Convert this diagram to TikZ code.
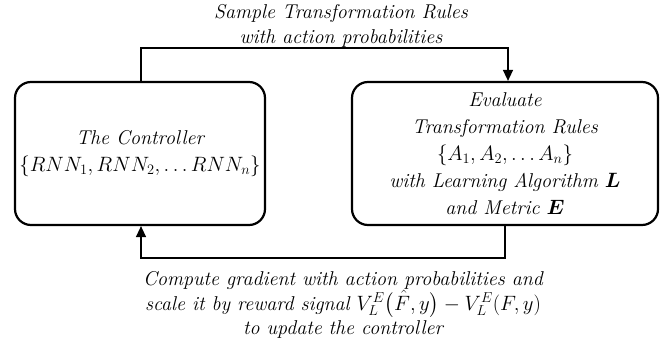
\documentclass[tikz,border=0pt]{standalone}
\usepackage{amsmath}
\usetikzlibrary{arrows.meta}
\begin{document}
\begin{tikzpicture}[x=1pt,y=-1pt,
  box/.style={draw, line width=2.2pt, rounded corners=16pt, align=center, inner sep=0pt},
  boxtxt/.style={font=\fontsize{20}{26.5}\selectfont\itshape},
  lbl/.style={align=center, font=\fontsize{20}{24.5}\selectfont\itshape, inner sep=0pt},
  conn/.style={line width=1.4pt, -{Triangle[length=11pt,width=10pt]}}]
\useasboundingbox (0,0) rectangle (666,345);
\node[box, boxtxt, minimum width=250pt, minimum height=143pt] (ctrl) at (140,153.5)
  {The Controller\\$\{RNN_1, RNN_2, \ldots RNN_n\}$};
\node[box, boxtxt, font=\fontsize{20}{27}\selectfont\itshape, minimum width=306pt, minimum height=143pt] (eval) at (505,153.5)
  {Evaluate\\Transformation Rules\\$\{A_1, A_2, \ldots A_n\}$\\with Learning Algorithm $\boldsymbol{L}$\\and Metric $\boldsymbol{E}$};
\coordinate (t1) at (141,48);
\coordinate (t2) at (508,48);
\coordinate (b1) at (505,258);
\coordinate (b2) at (141,258);
\draw[conn] (ctrl.north -| t1) -- (t1) -- (t2) -- (eval.north -| t2);
\draw[conn] (eval.south -| b1) -- (b1) -- (b2) -- (ctrl.south -| b2);
\node[lbl] (toplbl) at (341,26) {Sample Transformation Rules\\with action probabilities};
\node[lbl] (botlbl) at (343,305) {Compute gradient with action probabilities and\\scale it by reward signal $V_L^E\bigl(\hat{F},y\bigr) - V_L^E(F,y)$\\to update the controller};
\end{tikzpicture}
\end{document}
